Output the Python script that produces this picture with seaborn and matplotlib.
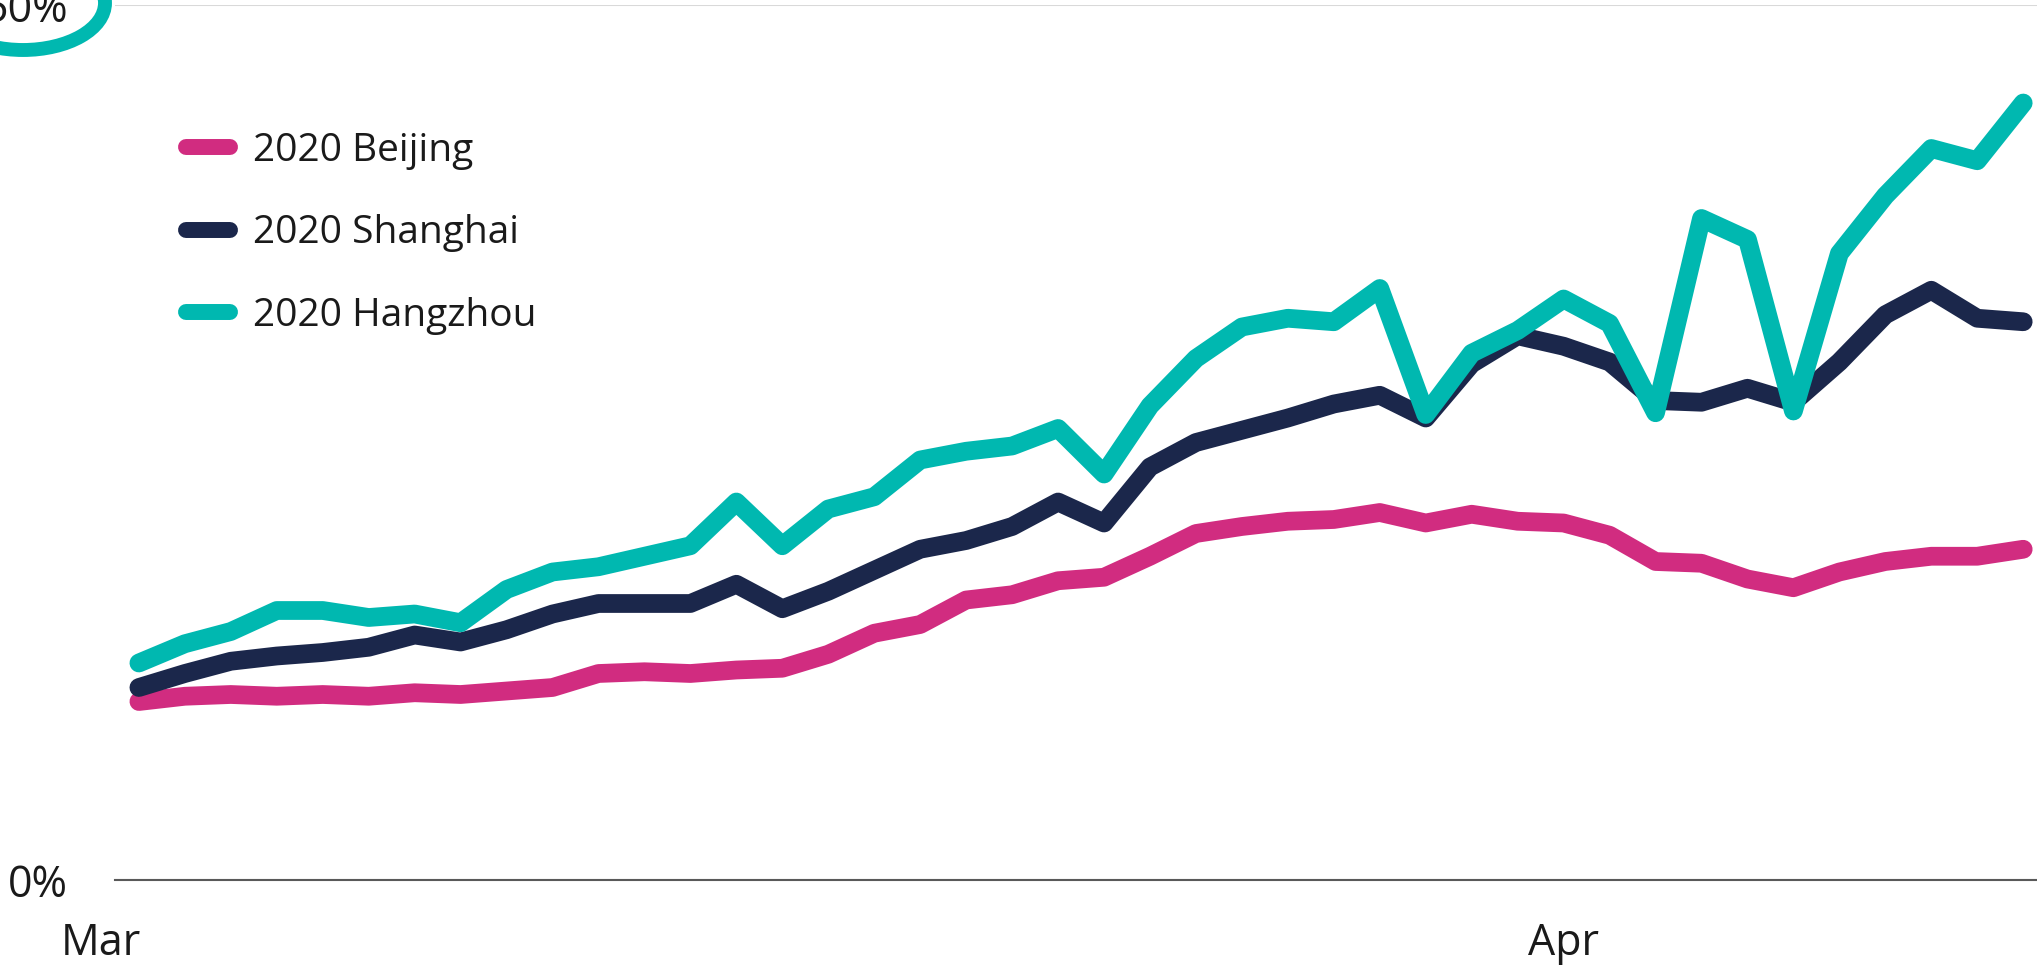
import numpy as np
import pandas as pd
import matplotlib
matplotlib.use("Agg")
import matplotlib.pyplot as plt
import matplotlib.dates as mdates
from matplotlib.patches import Ellipse
from matplotlib.transforms import ScaledTranslation
import seaborn as sns

# ---- data -------------------------------------------------------------
dates = pd.date_range("2020-03-01", "2020-04-11", freq="D")

beijing = [10.2, 10.5, 10.6, 10.5, 10.6, 10.5, 10.7, 10.6, 10.8, 11.0,
           11.8, 11.9, 11.8, 12.0, 12.1, 12.9, 14.1, 14.6, 16.0, 16.3,
           17.1, 17.3, 18.5, 19.8, 20.2, 20.5, 20.6, 21.0, 20.4, 20.9,
           20.5, 20.4, 19.7, 18.2, 18.1, 17.2, 16.7, 17.6, 18.2, 18.5,
           18.5, 18.9]
shanghai = [11.0, 11.8, 12.5, 12.8, 13.0, 13.3, 14.0, 13.6, 14.3, 15.2,
            15.8, 15.8, 15.8, 16.9, 15.5, 16.5, 17.7, 18.9, 19.4, 20.2,
            21.6, 20.4, 23.6, 25.0, 25.7, 26.4, 27.2, 27.7, 26.4, 29.5,
            31.1, 30.5, 29.6, 27.4, 27.3, 28.1, 27.3, 29.6, 32.3, 33.7,
            32.1, 31.9]
hangzhou = [12.4, 13.5, 14.2, 15.4, 15.4, 15.0, 15.2, 14.7, 16.6, 17.6,
            17.9, 18.5, 19.1, 21.6, 19.1, 21.2, 21.9, 24.0, 24.5, 24.8,
            25.8, 23.2, 27.1, 29.8, 31.6, 32.1, 31.9, 33.8, 26.6, 30.1,
            31.4, 33.2, 31.8, 26.7, 37.8, 36.6, 26.8, 35.8, 39.1, 41.8,
            41.1, 44.4]

series_names = ["2020 Beijing", "2020 Shanghai", "2020 Hangzhou"]
series_colors = ["#D12C80", "#1B274B", "#00B8B0"]
y_ticks = [0, 50]
y_tick_labels = ["0%", "50%"]
x_tick_dates = ["2020-03-01", "2020-04-01"]
x_tick_labels = ["Mar", "Apr"]

df = pd.concat([
    pd.DataFrame({"date": dates, "value": vals, "series": name})
    for name, vals in zip(series_names, [beijing, shanghai, hangzhou])
], ignore_index=True)

# ---- figure -----------------------------------------------------------
sns.set_theme(style="white")
plt.rcParams["font.family"] = ["Open Sans", "DejaVu Sans"]

W, H = 2037, 965
fig = plt.figure(figsize=(W / 100, H / 100), dpi=100)
ax = fig.add_axes([115 / W, 1 - 880 / H, 1 - 115 / W, (880 - 5) / H])

sns.lineplot(data=df, x="date", y="value", hue="series",
             hue_order=series_names, palette=series_colors,
             linewidth=13.5, ax=ax, legend=True,
             solid_capstyle="round", solid_joinstyle="round")

x0 = mdates.date2num(dates[0])
ax.set_xlim(x0 - 0.52, x0 + 41.3)
ax.set_ylim(0, 50)

ax.set_yticks(y_ticks)
ax.set_yticklabels(y_tick_labels)
ax.set_xticks([mdates.date2num(pd.Timestamp(d)) for d in x_tick_dates])
ax.set_xticklabels(x_tick_labels)
ax.tick_params(axis="y", length=0, pad=34, labelsize=31, labelcolor="#1a1a1a")
ax.tick_params(axis="x", length=0, pad=30, labelsize=31, labelcolor="#1a1a1a")
ax.set_xlabel("")
ax.set_ylabel("")

# the "Mar" label sits a little left of the first day
mar = ax.get_xticklabels()[0]
mar.set_transform(mar.get_transform() +
                  ScaledTranslation(-38 / 100, 0, fig.dpi_scale_trans))

ax.grid(axis="y", color="#d9d9d9", linewidth=1.5)
ax.grid(axis="x", visible=False)
for s in ["left", "right", "top"]:
    ax.spines[s].set_visible(False)
ax.spines["bottom"].set_color("#595959")
ax.spines["bottom"].set_linewidth(1.5)

handles, labels = ax.get_legend_handles_labels()
leg = ax.legend(handles, labels, loc="upper left",
                bbox_to_anchor=(186 / W, 1 - 132 / H),
                bbox_transform=fig.transFigure, frameon=False,
                fontsize=28, handlelength=1.13, handletextpad=0.59,
                labelspacing=1.14, borderpad=0, borderaxespad=0)
for ln in leg.get_lines():
    ln.set_linewidth(11.5)
    ln.set_solid_capstyle("round")
for t in leg.get_texts():
    t.set_color("#1a1a1a")

# highlight ring around the top tick label
ring = Ellipse((23 / W, 1 - 3 / H), 164 / W, 94 / H, transform=fig.transFigure,
               fill=False, edgecolor="#00B8B0", linewidth=10, clip_on=False)
fig.add_artist(ring)

fig.savefig("out.png", dpi=100)
